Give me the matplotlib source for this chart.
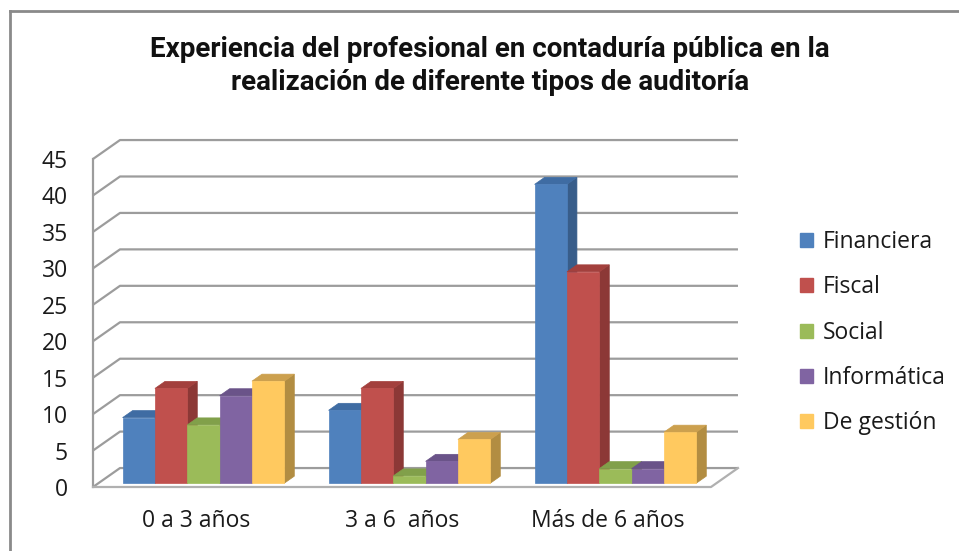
import matplotlib
matplotlib.use("Agg")
import matplotlib.pyplot as plt
from matplotlib.patches import Polygon, Patch
from matplotlib.lines import Line2D
import numpy as np

# data
categories = ["0 a 3 años", "3 a 6  años", "Más de 6 años"]
series = ["Financiera", "Fiscal", "Social", "Informática", "De gestión"]
financiera = [9, 10, 41]
fiscal = [13, 13, 29]
social = [8, 1, 2]
informatica = [12, 3, 2]
de_gestion = [14, 6, 7]
values = [financiera, fiscal, social, informatica, de_gestion]

yticks = list(range(0, 50, 5))

# front, side and top face colours per series
front_c = ["#4F81BD", "#C0504D", "#9BBB59", "#8064A2", "#FFC95F"]
side_c = ["#385D8A", "#8C3836", "#71893F", "#5C4776", "#B28D42"]
top_c = ["#3F6CA3", "#A3403D", "#81A04A", "#6A5389", "#CCA04E"]

title = "Experiencia del profesional en contaduría pública en la\nrealización de diferente tipos de auditoría"

W, H = 959, 551
fig = plt.figure(figsize=(W / 100, H / 100), dpi=100)
ax = fig.add_axes([93 / W, 64 / H, 618 / W, 328 / H])
xmin, xmax = -0.5, 2.5
ymin, ymax = 0, 45
ax.set_xlim(xmin, xmax)
ax.set_ylim(ymin, ymax)
for s in ax.spines.values():
    s.set_visible(False)

# fake 3-D depth (in data units)
dx, dy = 0.131, 2.6
f0, f1 = 0.2, 0.57
grid_c = "#9C9C9C"

# walls / gridlines
for v in yticks:
    ax.plot([xmin, xmin + dx, xmax + dx], [v, v + dy, v + dy], color=grid_c,
            lw=1.6, clip_on=False, zorder=1, solid_capstyle="butt")
ax.plot([xmin, xmin], [ymin, ymax], color=grid_c, lw=1.6, clip_on=False, zorder=1)
ax.plot([xmin, xmax, xmax + dx], [0, 0, dy], color="#B0B0B0", lw=1.6,
        clip_on=False, zorder=1)

# bars
bw = 0.157
n = len(series)
x = np.arange(len(categories))
for i in range(n):
    left = x - n * bw / 2 + i * bw + f0 * dx + 0.01
    vals = np.array(values[i], dtype=float)
    ax.bar(left, vals, width=bw, bottom=f0 * dy, align="edge", color=front_c[i],
           edgecolor=front_c[i], lw=0.5, zorder=3 + i * 3, clip_on=False)
    ddx, ddy = (f1 - f0) * dx, (f1 - f0) * dy
    for xl, v in zip(left, vals):
        b = f0 * dy
        side = [(xl + bw, b), (xl + bw + ddx, b + ddy), (xl + bw + ddx, b + v + ddy), (xl + bw, b + v)]
        top = [(xl, b + v), (xl + ddx, b + v + ddy), (xl + bw + ddx, b + v + ddy), (xl + bw, b + v)]
        ax.add_patch(Polygon(side, closed=True, fc=side_c[i], ec=side_c[i], lw=0.5,
                             zorder=2 + i * 3, clip_on=False))
        ax.add_patch(Polygon(top, closed=True, fc=top_c[i], ec=top_c[i], lw=0.5,
                             zorder=2 + i * 3, clip_on=False))

tick_font = ["Open Sans", "DejaVu Sans"]
fs = 16.5
ax.set_yticks(yticks)
ax.set_yticklabels([str(v) for v in yticks], fontsize=fs, family=tick_font, color="#1a1a1a")
ax.set_xticks(x)
ax.set_xticklabels(categories, fontsize=fs, family=tick_font, color="#1a1a1a")
ax.tick_params(axis="y", length=0, pad=18)
ax.tick_params(axis="x", length=0, pad=16)

handles = [Patch(facecolor=c, edgecolor=c) for c in front_c]
leg = fig.legend(handles, series, loc="upper left", bbox_to_anchor=(791 / W, 1 - 221 / H),
                 frameon=False, prop={"family": tick_font, "size": fs},
                 handlelength=0.55, handleheight=0.55, handletextpad=0.45,
                 labelspacing=0.93, borderaxespad=0)
for t in leg.get_texts():
    t.set_color("#1a1a1a")

fig.text(490 / W, 1 - 66 / H, title, ha="center", va="center", fontsize=20,
         fontweight="bold", family=["Roboto", "DejaVu Sans"],
         linespacing=1.3, color="#111111")

# chart border (only top and left edges are visible in the crop)
fig.add_artist(Line2D([10 / W, 10 / W], [0, 1 - 11 / H], color="#8A8A8A", lw=2))
fig.add_artist(Line2D([10 / W, 1], [1 - 11 / H, 1 - 11 / H], color="#8A8A8A", lw=2))

fig.savefig("out.png", dpi=100)
